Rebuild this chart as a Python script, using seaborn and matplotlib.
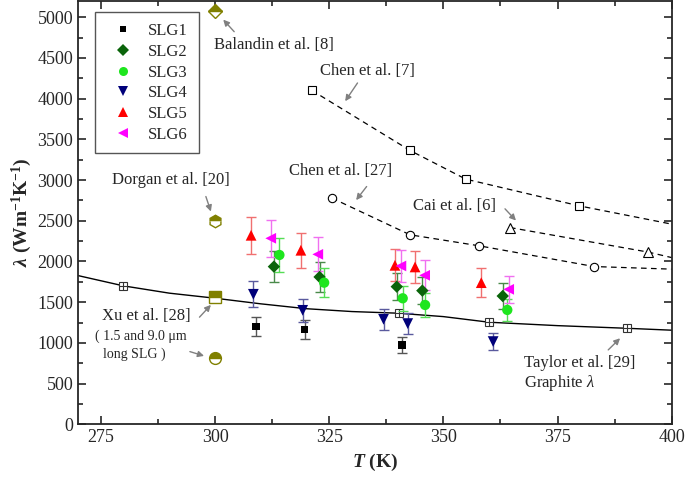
import matplotlib
matplotlib.use("Agg")
import matplotlib.pyplot as plt
from matplotlib.lines import Line2D
from matplotlib.ticker import MultipleLocator
import seaborn as sns
import pandas as pd

# ---------------- data ----------------
samples = ["SLG1", "SLG2", "SLG3", "SLG4", "SLG5", "SLG6"]
T_slg1 = [309.0, 319.6, 340.9]
lam_slg1 = [1200, 1165, 975]
err_slg1 = [115, 115, 100]
T_slg2 = [312.9, 322.9, 339.8, 345.4, 363.0]
lam_slg2 = [1937, 1810, 1691, 1642, 1576]
err_slg2 = [190, 180, 170, 165, 160]
T_slg3 = [314.1, 323.9, 341.1, 346.0, 364.0]
lam_slg3 = [2080, 1740, 1548, 1466, 1405]
err_slg3 = [205, 175, 155, 145, 140]
T_slg4 = [308.4, 319.2, 336.9, 342.2, 360.9]
lam_slg4 = [1597, 1400, 1290, 1237, 1016]
err_slg4 = [160, 140, 130, 125, 100]
T_slg5 = [307.9, 318.8, 339.4, 343.8, 358.3]
lam_slg5 = [2322, 2138, 1953, 1933, 1740]
err_slg5 = [230, 215, 195, 195, 175]
T_slg6 = [312.2, 322.5, 340.7, 345.9, 364.3]
lam_slg6 = [2285, 2088, 1945, 1830, 1658]
err_slg6 = [230, 210, 195, 185, 165]

# literature
chen7_T = [321.2, 342.7, 354.9, 379.7]
chen7_lam = [4102, 3364, 3012, 2684]
chen7_line_T = [321.2, 342.7, 354.9, 379.7, 400]
chen7_line_lam = [4102, 3364, 3012, 2684, 2459]
chen27_T = [325.6, 342.7, 357.9, 383.0]
chen27_lam = [2779, 2328, 2192, 1938]
chen27_line_T = [325.6, 342.7, 357.9, 383.0, 400]
chen27_line_lam = [2779, 2328, 2192, 1938, 1906]
cai_T = [364.6, 394.9]
cai_lam = [2417, 2115]
cai_line_T = [364.6, 394.9, 400]
cai_line_lam = [2417, 2115, 2048]
taylor_T = [279.9, 340.3, 359.9, 390.3]
taylor_lam = [1700, 1365, 1254, 1180]
taylor_line_T = [270, 280, 290, 300, 310, 320, 330, 340, 350, 360, 375, 390, 400]
taylor_line_lam = [1827, 1700, 1611, 1549, 1480, 1420, 1385, 1365, 1323, 1254, 1212, 1180, 1156]
balandin = (300, 5073)
dorgan = (300, 2500)
xu_long = (300, 1569)
xu_short = (300, 819)

# ---------------- styling ----------------
sns.set_style("ticks")
plt.rcParams["font.family"] = ["Liberation Serif", "DejaVu Serif"]
plt.rcParams["mathtext.fontset"] = "custom"
plt.rcParams["mathtext.rm"] = "Liberation Serif"
plt.rcParams["mathtext.it"] = "Liberation Serif:italic"
plt.rcParams["mathtext.bf"] = "Liberation Serif:bold"
plt.rcParams["mathtext.bfit"] = "Liberation Serif:bold:italic"

colors = {"SLG1": "#000000", "SLG2": "#0a640a", "SLG3": "#1ee61e",
          "SLG4": "#00007a", "SLG5": "#ff0000", "SLG6": "#ff00ff"}
ecolors = {"SLG1": "#555555", "SLG2": "#4a8a4a", "SLG3": "#55dd55",
           "SLG4": "#5a5a9e", "SLG5": "#f07070", "SLG6": "#f070f0"}
markers = {"SLG1": "s", "SLG2": "D", "SLG3": "o", "SLG4": "v", "SLG5": "^", "SLG6": "<"}
sizes = {"SLG1": 30, "SLG2": 40, "SLG3": 55, "SLG4": 60, "SLG5": 60, "SLG6": 60}

Ts = [T_slg1, T_slg2, T_slg3, T_slg4, T_slg5, T_slg6]
lams = [lam_slg1, lam_slg2, lam_slg3, lam_slg4, lam_slg5, lam_slg6]
errs = [err_slg1, err_slg2, err_slg3, err_slg4, err_slg5, err_slg6]

rows = []
for name, t, l, e in zip(samples, Ts, lams, errs):
    for a, b, c in zip(t, l, e):
        rows.append({"sample": name, "T": a, "lam": b, "err": c})
df = pd.DataFrame(rows)

fig = plt.figure(figsize=(6.85, 4.78), dpi=100)
ax = fig.add_axes([78 / 685, 1 - 424.3 / 478, (671.7 - 78) / 685, (424.3 - 1) / 478])

grey = "#808080"
# Taylor line
ax.plot(taylor_line_T, taylor_line_lam, color="black", lw=1.0, zorder=2)
ax.plot(taylor_T, taylor_lam, ls="none", marker="s", ms=6, mfc="white", mec="#333333", mew=0.8, zorder=3)
ax.plot(taylor_T, taylor_lam, ls="none", marker="+", ms=6, mec="#333333", mew=0.8, zorder=4)
# dashed lines
dash = (0, (4.5, 3.5))
ax.plot(chen7_line_T, chen7_line_lam, color="black", lw=0.9, ls=dash, zorder=2)
ax.plot(chen7_T, chen7_lam, ls="none", marker="s", ms=5.5, mfc="white", mec="black", mew=0.8, zorder=3)
ax.plot(chen27_line_T, chen27_line_lam, color="black", lw=0.9, ls=dash, zorder=2)
ax.plot(chen27_T, chen27_lam, ls="none", marker="o", ms=6, mfc="white", mec="black", mew=0.8, zorder=3)
ax.plot(cai_line_T, cai_line_lam, color="black", lw=0.9, ls=dash, zorder=2)
ax.plot(cai_T, cai_lam, ls="none", marker="^", ms=7, mfc="white", mec="black", mew=0.8, zorder=3)

olive = "#808000"
for pt, mk, ms in [(balandin, "D", 7), (dorgan, "h", 9), (xu_long, "s", 8), (xu_short, "o", 8.5)]:
    ax.plot([pt[0]], [pt[1]], ls="none", marker=mk, ms=ms, fillstyle="top",
            mfc=olive, mfcalt="white", mec=olive, mew=1.0, zorder=4, clip_on=False)

# error bars
for name, t, l, e in zip(samples, Ts, lams, errs):
    ax.errorbar(t, l, yerr=e, fmt="none", ecolor=ecolors[name], elinewidth=1.0,
                capsize=3.5, capthick=1.0, zorder=5)

sns.scatterplot(data=df, x="T", y="lam", hue="sample", style="sample",
                palette=colors, markers=markers, size="sample", sizes=sizes,
                linewidth=0, legend=False, ax=ax, zorder=6)

# annotations
fs = 12
ax.text(299.8, 4655, "Balandin et al. [8]", fontsize=fs, va="center", ha="left")
ax.text(322.9, 4344, "Chen et al. [7]", fontsize=fs, va="center", ha="left")
ax.text(316.1, 3106, "Chen et al. [27]", fontsize=fs, va="center", ha="left")
ax.text(343.4, 2684, "Cai et al. [6]", fontsize=fs, va="center", ha="left")
ax.text(277.4, 3004, "Dorgan et al. [20]", fontsize=fs, va="center", ha="left")
ax.text(275.2, 1332, "Xu et al. [28]", fontsize=fs, va="center", ha="left")
ax.text(273.7, 1077, "( 1.5 and 9.0 \u03bcm", fontsize=10, va="center", ha="left")
ax.text(275.4, 864, "long SLG )", fontsize=10, va="center", ha="left")
ax.text(367.7, 750, "Taylor et al. [29]", fontsize=fs, va="center", ha="left")
ax.text(367.7, 512, r"Graphite $\lambda$", fontsize=fs, va="center", ha="left")

arrows = [((304.2, 4823), (301.8, 4971)),
          ((331.2, 4193), (328.5, 3969)),
          ((333.2, 2921), (330.9, 2754)),
          ((363.5, 2647), (365.9, 2503)),
          ((298.0, 2798), (299.1, 2614)),
          ((296.6, 1316), (299.1, 1467)),
          ((294.5, 893), (297.6, 840)),
          ((386.1, 914), (388.7, 1057))]
for tail, tip in arrows:
    ax.annotate("", xy=tip, xytext=tail,
                arrowprops=dict(arrowstyle="-|>", color=grey, lw=1.0,
                                mutation_scale=9, shrinkA=0, shrinkB=0))

# axes
ax.set_xlim(270, 400)
ax.set_ylim(0, 5200)
ax.xaxis.set_major_locator(MultipleLocator(25))
ax.xaxis.set_minor_locator(MultipleLocator(12.5))
ax.yaxis.set_major_locator(MultipleLocator(500))
ax.yaxis.set_minor_locator(MultipleLocator(250))
ax.tick_params(which="both", direction="in", top=True, right=True, width=1.2, labelsize=13)
ax.tick_params(which="major", length=6)
ax.tick_params(which="minor", length=3.5)
for sp in ax.spines.values():
    sp.set_linewidth(1.3)
    sp.set_visible(True)

ax.set_xlabel(r"$\mathbfit{T}\ \mathbf{(K)}$", fontsize=14, labelpad=4)
ax.set_ylabel(r"$\mathbfit{\lambda}\ \mathbf{(Wm^{-1}K^{-1})}$", fontsize=14, labelpad=2)

handles = [Line2D([], [], ls="none", marker=markers[n], color=colors[n],
                  ms=(5 if n == "SLG1" else 6.5), mew=0) for n in samples]
leg = ax.legend(handles, samples, loc="upper left", bbox_to_anchor=(0.0286, 0.973),
                borderaxespad=0, fontsize=12, frameon=True, fancybox=False,
                edgecolor="#555555", framealpha=1, labelspacing=0.28,
                handlelength=2.07, handletextpad=0.47, borderpad=0.65)
leg.get_frame().set_linewidth(1.0)

fig.savefig("out.png", dpi=100)
